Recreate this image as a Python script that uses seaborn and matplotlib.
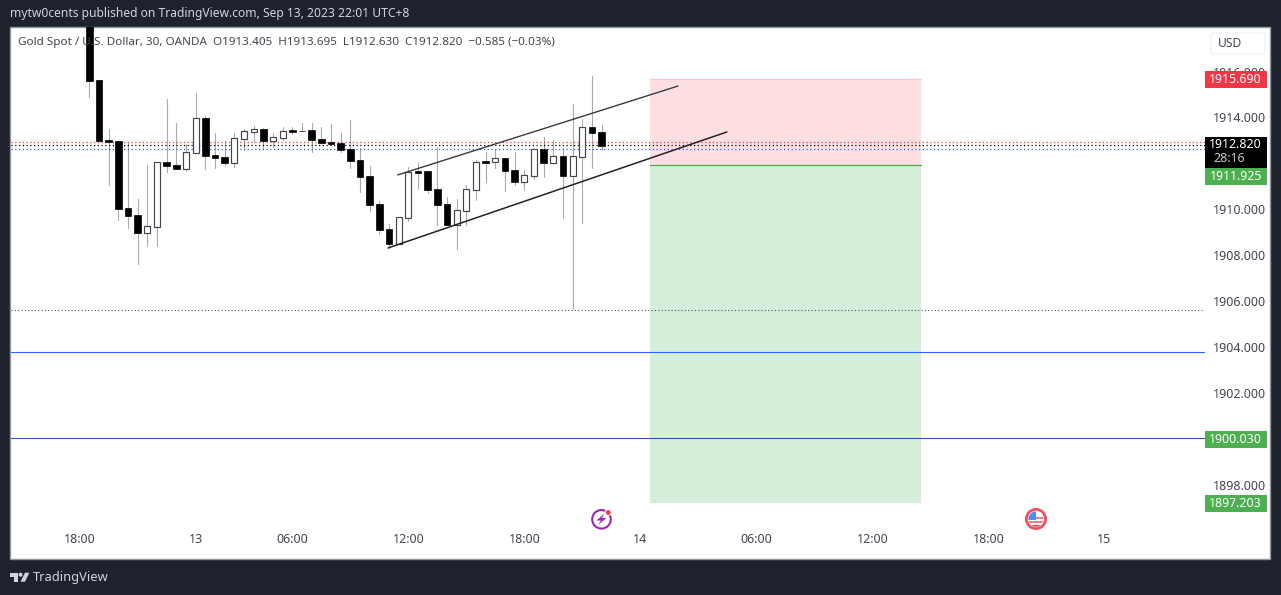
import numpy as np
import pandas as pd
import matplotlib
matplotlib.use("Agg")
import matplotlib.pyplot as plt
from matplotlib.patches import Rectangle, Circle, Polygon, FancyBboxPatch
import seaborn as sns

# 30 min candles
opens = [1919.50, 1915.63, 1913.02, 1912.98, 1910.06, 1909.76, 1908.97, 1909.23, 1912.06, 1911.93,
         1911.76, 1912.45, 1913.98, 1912.37, 1912.28, 1912.02, 1913.06, 1913.37, 1913.50, 1912.98,
         1913.11, 1913.46, 1913.43, 1913.46, 1913.06, 1912.93, 1912.89, 1912.63, 1912.15, 1911.45,
         1910.23, 1909.15, 1908.49, 1909.63, 1911.67, 1911.67, 1910.89, 1910.23, 1909.32, 1909.93,
         1910.84, 1912.11, 1912.06, 1912.24, 1911.71, 1911.19, 1911.45, 1912.63, 1912.02, 1912.32,
         1911.45, 1912.28, 1913.59, 1913.37]
highs = [1920.00, 1915.63, 1913.50, 1912.98, 1912.93, 1910.45, 1911.93, 1912.06, 1914.81, 1913.76,
         1912.85, 1915.07, 1914.07, 1913.33, 1912.98, 1913.33, 1913.50, 1913.63, 1913.54, 1913.33,
         1913.59, 1913.59, 1913.76, 1913.76, 1913.59, 1913.72, 1913.33, 1913.89, 1912.67, 1911.89,
         1910.37, 1909.36, 1909.67, 1911.85, 1912.02, 1911.67, 1912.72, 1910.54, 1910.45, 1911.06,
         1912.15, 1912.50, 1912.63, 1912.24, 1912.50, 1911.71, 1912.63, 1913.15, 1913.02, 1912.67,
         1914.59, 1913.93, 1915.81, 1913.67]
lows = [1914.91, 1912.98, 1911.06, 1909.54, 1909.19, 1907.62, 1908.41, 1908.41, 1911.63, 1911.76,
        1911.71, 1912.45, 1911.76, 1911.80, 1911.93, 1911.85, 1912.59, 1912.93, 1912.67, 1912.72,
        1913.02, 1913.28, 1913.41, 1912.50, 1912.89, 1912.80, 1912.50, 1911.80, 1910.76, 1909.93,
        1908.93, 1908.32, 1908.49, 1909.49, 1910.89, 1910.71, 1909.32, 1909.32, 1908.28, 1909.32,
        1910.41, 1911.19, 1911.80, 1910.80, 1911.06, 1910.84, 1911.32, 1911.41, 1912.02, 1909.63,
        1905.66, 1909.41, 1911.80, 1912.59]
closes = [1915.60, 1912.98, 1912.93, 1910.02, 1909.71, 1908.97, 1909.28, 1912.06, 1911.89, 1911.76,
          1912.50, 1913.98, 1912.32, 1912.24, 1912.02, 1913.11, 1913.41, 1913.50, 1912.98, 1913.15,
          1913.41, 1913.37, 1913.41, 1913.02, 1912.89, 1912.85, 1912.59, 1912.11, 1911.41, 1910.19,
          1909.10, 1908.49, 1909.67, 1911.63, 1911.58, 1910.84, 1910.19, 1909.32, 1909.97, 1910.89,
          1912.06, 1912.02, 1912.24, 1911.67, 1911.19, 1911.50, 1912.63, 1912.02, 1912.32, 1911.45,
          1912.32, 1913.59, 1913.33, 1912.76]

price_ticks = [1898, 1900, 1902, 1904, 1906, 1908, 1910, 1912, 1914, 1916]
time_pos = [-1, 11, 21, 33, 45, 57, 69, 81, 93, 105]
time_labels = ["18:00", "13", "06:00", "12:00", "18:00", "14", "06:00", "12:00", "18:00", "15"]

# short position drawing
pos_start, pos_end = 58, 86
stop_price, entry_price, target_price = 1915.690, 1911.925, 1897.203
last_price = 1912.820
alert_price = 1900.030
dotted_red, dotted_blue, dotted_grey = 1912.92, 1912.62, 1905.64
blue_line = 1903.79
upper_x, upper_y = [31.9, 60.9], [1911.50, 1915.37]
lower_x, lower_y = [30.9, 65.95], [1908.32, 1913.37]

DARK = "#1e222d"
TEXT = "#434651"
font = ["Noto Sans", "DejaVu Sans"]

sns.set_theme(style="white")
plt.rcParams["font.family"] = font

W, H = 1281, 595
fig = plt.figure(figsize=(W / 100, H / 100), dpi=100, facecolor=DARK)
fig.add_artist(Rectangle((10 / W, 1 - 559 / H), 1260 / W, 532 / H, transform=fig.transFigure,
                         facecolor="white", edgecolor="#9598a1", lw=1, zorder=-1))

ax = fig.add_axes([10.5 / W, 1 - 559 / H, 1194.5 / W, 532 / H])
ax.patch.set_alpha(0)

df = pd.DataFrame({"bar": range(len(opens)), "open": opens, "high": highs, "low": lows, "close": closes})
wicks = df.melt(id_vars="bar", value_vars=["high", "low"], value_name="price")
sns.lineplot(data=wicks, x="bar", y="price", units="bar", estimator=None, sort=False,
             color="#a8a9ae", lw=0.8, legend=False, ax=ax, zorder=2)

down = df[df["close"] < df["open"]]
up = df[df["close"] >= df["open"]]
sns.barplot(x=down["bar"].values, y=(down["open"] - down["close"]).values, bottom=down["close"].values,
            native_scale=True, width=0.68, color="black", saturation=1, errorbar=None,
            edgecolor="black", linewidth=0.5, ax=ax, zorder=3)
sns.barplot(x=up["bar"].values, y=(up["close"] - up["open"]).values, bottom=up["open"].values,
            native_scale=True, width=0.62, color="white", saturation=1, errorbar=None,
            edgecolor=TEXT, linewidth=0.85, ax=ax, zorder=3)

# position box
ax.axhspan(entry_price, stop_price, xmin=0, xmax=1, alpha=0)
ax.add_patch(Rectangle((pos_start, entry_price), pos_end - pos_start, stop_price - entry_price,
                       facecolor="#fddfe2", edgecolor="none", zorder=1))
ax.add_patch(Rectangle((pos_start, target_price), pos_end - pos_start, entry_price - target_price,
                       facecolor="#d5eeda", edgecolor="none", zorder=1))
ax.plot([pos_start, pos_end], [entry_price, entry_price], color="#4caf50", lw=0.9, zorder=2)
ax.plot([pos_start, pos_end], [stop_price, stop_price], color="#f7c5ca", lw=0.8, zorder=2)

# horizontal levels
ax.axhline(dotted_red, color="#f23645", lw=0.9, ls=(0, (1, 2)), zorder=2.5)
ax.axhline(last_price, color="black", lw=0.9, ls=(0, (1, 2)), zorder=2.5)
ax.axhline(dotted_blue, color="#2962ff", lw=0.9, ls=(0, (1, 2)), zorder=2.5)
ax.axhline(dotted_grey, color="#50535e", lw=0.8, ls=(0, (1, 2)), zorder=2.5)
ax.axhline(blue_line, color="#2962ff", lw=0.8, zorder=2.5)
ax.axhline(alert_price, color="#2c5aa0", lw=0.8, zorder=2.5)

# trend channel
ax.plot(upper_x, upper_y, color="#3a3a40", lw=1.0, zorder=4)
ax.plot(lower_x, lower_y, color="#222226", lw=1.1, zorder=4)

ax.set_xlim((10.5 - 89.3) / 9.667, (1205 - 89.3) / 9.667)
ax.set_ylim(1914 - (559 - 117.5) * 0.04353, 1914 + (117.5 - 27) * 0.04353)
ax.set_xlabel("")
ax.set_ylabel("")
ax.set_xticks(time_pos, time_labels)
ax.set_yticks(price_ticks, [f"{p:.3f}" for p in price_ticks])
ax.yaxis.tick_right()
ax.tick_params(axis="x", length=0, pad=-19, labelsize=9, labelcolor=TEXT)
ax.tick_params(axis="y", length=0, pad=5.5, labelsize=9, labelcolor=TEXT)
sns.despine(ax=ax, left=True, bottom=True, right=True, top=True)

# overlay in pixel coordinates for the page furniture
ov = fig.add_axes([0, 0, 1, 1], facecolor="none")
ov.set_xlim(0, W)
ov.set_ylim(H, 0)
ov.axis("off")

ov.text(10, 13.5, "mytw0cents published on TradingView.com, Sep 13, 2023 22:01 UTC+8",
        color="#d1d4dc", fontsize=8.7, fontweight="medium", va="center")
ov.text(18, 42, "Gold Spot / U.S. Dollar, 30, OANDA  O1913.405  H1913.695  L1912.630  C1912.820  \u22120.585 (\u22120.03%)",
        color=TEXT, fontsize=8.4, va="center")

ov.add_patch(FancyBboxPatch((1211, 33), 54, 21, boxstyle="round,pad=0,rounding_size=3",
                            facecolor="white", edgecolor="#f0f3fa", lw=1.2))
ov.text(1218, 43.5, "USD", color=TEXT, fontsize=8.7, va="center")


def tag(y0, y1, color, label):
    ov.add_patch(Rectangle((1205, y0), 62, y1 - y0, facecolor=color, edgecolor="none"))
    ov.text(1262, (y0 + y1) / 2, label, color="white", fontsize=8.9, fontweight="bold",
            ha="right", va="center")


tag(71, 88, "#f23645", f"{stop_price:.3f}")
ov.add_patch(Rectangle((1205, 137), 62, 31, facecolor="black", edgecolor="none"))
ov.text(1262, 145, f"{last_price:.3f}", color="white", fontsize=8.9, fontweight="bold", ha="right", va="center")
ov.text(1213, 159, "28:16", color="#c8c8c8", fontsize=8.9, va="center")
tag(168, 185, "#4caf50", f"{entry_price:.3f}")
tag(431, 448, "#4caf50", f"{alert_price:.3f}")
tag(495, 512, "#4caf50", f"{target_price:.3f}")

# lightning icon
ov.add_patch(Circle((601.5, 519.3), 9.3, facecolor="white", edgecolor="#9c27b0", lw=1.5))
ov.add_patch(Polygon([(604.5, 513.5), (596.5, 520.5), (601, 520.5), (598, 525), (606.5, 518), (602, 518)],
                     facecolor="#9c27b0", edgecolor="none"))
ov.add_patch(Circle((608.3, 512.5), 3.4, facecolor="white", edgecolor="none"))
ov.add_patch(Circle((608.3, 512.5), 2.4, facecolor="#f23645", edgecolor="none"))

# flag icon
flag_clip = Circle((1036, 519), 7.6, transform=ov.transData)
ov.add_patch(Circle((1036, 519), 9.6, facecolor="white", edgecolor="#f2505f", lw=2))
for y0, h, col, x0, w in [(511, 16, "white", 1028, 16), (517, 2.2, "#f77c80", 1036, 8),
                          (521, 2.2, "#f77c80", 1028, 16), (524.5, 3, "#f23645", 1028, 16),
                          (511, 9, "#4a90f0", 1028, 8)]:
    r = ov.add_patch(Rectangle((x0, y0), w, h, facecolor=col, edgecolor="none"))
    r.set_clip_path(flag_clip)

# TradingView logo
ov.add_patch(Polygon([(10, 572.7), (18, 572.7), (18, 581.7), (14, 581.7), (14, 576.5), (10, 576.5)],
                     facecolor="#d1d4dc", edgecolor="none"))
ov.add_patch(Circle((20.6, 574.7), 2, facecolor="#d1d4dc", edgecolor="none"))
ov.add_patch(Polygon([(25, 572.7), (29.3, 572.7), (25, 581.7), (20.5, 581.7)],
                     facecolor="#d1d4dc", edgecolor="none"))
ov.text(33, 577, "TradingView", color="#d1d4dc", fontsize=9.3, va="center")

fig.savefig("out.png", dpi=100, facecolor=DARK)
